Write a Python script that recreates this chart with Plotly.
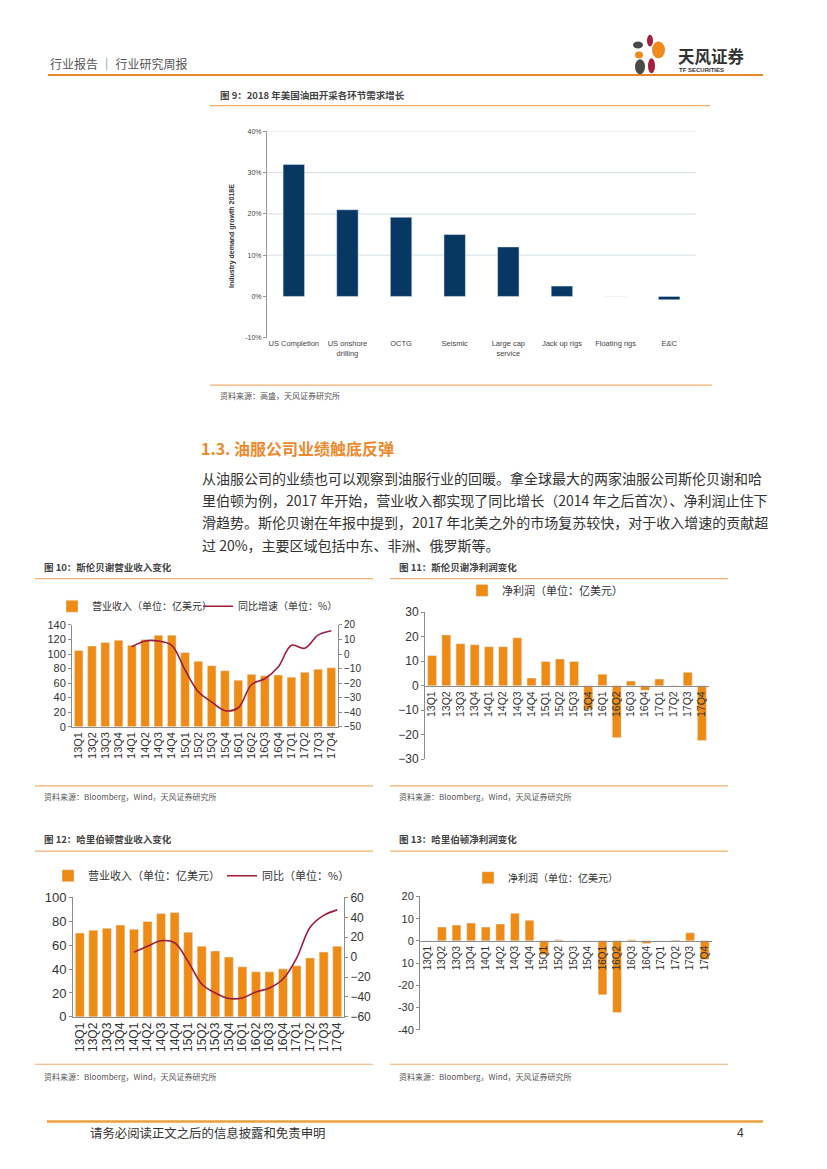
import plotly.graph_objects as go

W, H = 827, 1169
def px(x): return x / W
def py(y): return 1 - y / H

CJK = "Noto Sans CJK SC"
LAT = "Liberation Sans, Arial, Noto Sans CJK SC, sans-serif"

# ---------------- data ----------------
fig9_categories = ["US Completion", "US onshore<br>drilling", "OCTG", "Seismic",
                   "Large cap<br>service", "Jack up rigs", "Floating rigs", "E&C"]
fig9_growth = [32.0, 21.0, 19.2, 15.0, 12.0, 2.5, 0.0, -0.8]

quarters = ["13Q1", "13Q2", "13Q3", "13Q4", "14Q1", "14Q2", "14Q3", "14Q4",
            "15Q1", "15Q2", "15Q3", "15Q4", "16Q1", "16Q2", "16Q3", "16Q4",
            "17Q1", "17Q2", "17Q3", "17Q4"]

slb_revenue = [105, 111, 116, 119, 112, 120, 126, 126, 102, 90, 84, 77,
               64, 72, 70, 71, 68, 75, 79, 81]
slb_yoy = [None, None, None, None, 5, 9, 9, 6, -11, -26, -33, -39,
           -37, -21, -17, -9, 6, 4, 13, 16]
slb_profit = [12.3, 20.7, 17.1, 16.7, 15.9, 15.9, 19.5, 3.1, 9.9, 10.9, 9.9, -9.6,
              4.7, -21.2, 1.9, -1.9, 2.7, 0.0, 5.5, -22.4]

hal_revenue = [70.2, 72.5, 74.1, 76.9, 73.3, 79.9, 86.5, 87.3, 70.8, 59.2, 55.1, 50.1,
               41.9, 37.7, 37.7, 40.2, 42.7, 49.3, 54.3, 59.2]
hal_yoy = [None, None, None, None, 5, 11, 16.5, 14.5, -4.5, -27, -36, -41.5,
           -41, -35, -31, -22, -1, 30, 42, 47.5]
hal_profit = [0.0, 6.2, 7.1, 8.0, 6.2, 7.6, 12.4, 9.3, -6.2, 0.5, 0.0, 0.0,
              -24.3, -32.3, 0.5, -1.2, 0.0, 0.4, 3.6, -8.4]

fig13_ticks = [20, 10, 0, -10, -20, -30, -40]
fig13_ticktext = ["20", "10", "0", "10", "-20", "-30", "-40"]

ORANGE = "#EE8B14"
DARKRED = "#9E1B3B"
NAVY = "#073763"
RULE = "#F2AE6E"
AXIS = "#8C8C8C"
TXT = "#333333"

fig = go.Figure()

# ---------------- Fig 9 ----------------
fig.add_trace(go.Bar(x=fig9_categories, y=fig9_growth, marker_color=NAVY, width=0.4,
                     xaxis="x", yaxis="y", showlegend=False))

# ---------------- Fig 10 ----------------
fig.add_trace(go.Bar(x=quarters, y=slb_revenue, marker_color=ORANGE, width=0.65,
                     name="营业收入（单位：亿美元）", xaxis="x2", yaxis="y2", legend="legend"))
fig.add_trace(go.Scatter(x=quarters, y=slb_yoy, mode="lines",
                         line=dict(color=DARKRED, width=1.6, shape="spline", smoothing=1.0),
                         name="同比增速（单位：%）", xaxis="x2", yaxis="y3", legend="legend5"))

# ---------------- Fig 11 ----------------
fig.add_trace(go.Bar(x=quarters, y=slb_profit, marker_color=ORANGE, width=0.63,
                     name="净利润（单位：亿美元）", xaxis="x3", yaxis="y4", legend="legend2"))

# ---------------- Fig 12 ----------------
fig.add_trace(go.Bar(x=quarters, y=hal_revenue, marker_color=ORANGE, width=0.66,
                     name="营业收入（单位：亿美元）", xaxis="x4", yaxis="y5", legend="legend3"))
fig.add_trace(go.Scatter(x=quarters, y=hal_yoy, mode="lines",
                         line=dict(color=DARKRED, width=1.6, shape="spline", smoothing=1.0),
                         name="同比（单位：%）", xaxis="x4", yaxis="y6", legend="legend6"))

# ---------------- Fig 13 ----------------
fig.add_trace(go.Bar(x=quarters, y=hal_profit, marker_color=ORANGE, width=0.6,
                     name="净利润（单位：亿美元）", xaxis="x5", yaxis="y7", legend="legend4"))

def ydom(top, bottom):
    return [py(bottom), py(top)]

def qaxis(dom, size, **kw):
    d = dict(domain=dom, showline=True, linecolor=AXIS, ticks="", tickangle=-90,
             tickmode="array", tickvals=quarters, ticktext=quarters,
             tickfont=dict(size=size, color=TXT), showgrid=False)
    d.update(kw)
    return d

def vaxis(top, bottom, size, **kw):
    d = dict(domain=ydom(top, bottom), showgrid=False, zeroline=False, showline=True, linecolor=AXIS,
             ticks="outside", ticklen=3, tickcolor=AXIS, tickfont=dict(size=size, color=TXT))
    d.update(kw)
    return d

def leg(x, y, size):
    return dict(orientation="h", x=px(x), y=py(y), xanchor="left", yanchor="middle",
                font=dict(family=CJK, size=size, color=TXT), bgcolor="rgba(0,0,0,0)",
                itemwidth=30, borderwidth=0)

layout = dict(
    width=W, height=H, margin=dict(l=0, r=0, t=0, b=0),
    paper_bgcolor="white", plot_bgcolor="rgba(0,0,0,0)",
    font=dict(family=LAT, color=TXT),
    # fig 9
    xaxis=dict(domain=[px(267), px(696)], anchor="y", showline=False, ticks="",
               tickfont=dict(size=7.5, color="#444"), showgrid=False),
    yaxis=dict(domain=ydom(126, 335), anchor="x", range=[-10, 40], tickvals=[-10, 0, 10, 20, 30, 40],
               ticktext=["-10%", "0%", "10%", "20%", "30%", "40%"], showgrid=False, zeroline=False,
               showline=True, linecolor="#999", linewidth=1, tickfont=dict(size=7, color="#444"),
               ticks="outside", ticklen=3, tickcolor="#999"),
    # fig 10
    xaxis2=qaxis([px(72), px(338)], 11, anchor="y2"),
    yaxis2=vaxis(626, 729, 11, anchor="x2", range=[0, 140], dtick=20),
    yaxis3=vaxis(626, 729, 10, anchor="x2", overlaying="y2", side="right", range=[-50, 20], dtick=10),
    # fig 11
    xaxis3=qaxis([px(425), px(709)], 10.5, anchor="free", position=py(688)),
    yaxis4=vaxis(613, 762, 12, anchor="x3", range=[-30, 30], dtick=10),
    # fig 12
    xaxis4=qaxis([px(73), px(344)], 12, anchor="y5"),
    yaxis5=vaxis(902, 1023, 13, anchor="x4", range=[0, 100], dtick=20),
    yaxis6=vaxis(902, 1023, 12, anchor="x4", overlaying="y5", side="right", range=[-60, 60], dtick=20),
    # fig 13
    xaxis5=qaxis([px(420), px(712)], 10, anchor="free", position=py(946)),
    yaxis7=vaxis(901, 1036, 11, anchor="x5", range=[-40, 20], tickvals=fig13_ticks, ticktext=fig13_ticktext),
    legend=leg(52, 607, 10),
    legend5=leg(198, 607, 10),
    legend2=leg(462, 591, 11),
    legend3=leg(48, 880, 11),
    legend6=leg(222, 880, 11),
    legend4=leg(468, 882, 10),
)
fig.update_layout(**layout)

shapes = []
# fig 9 gridlines
for v in [10, 20, 30, 40]:
    shapes.append(dict(type="line", xref="x domain", yref="y", x0=0, x1=1, y0=v, y1=v,
                       line=dict(color="#D3E0E8", width=1), layer="below"))

def hline(x0, x1, y, color, width=1.5):
    shapes.append(dict(type="line", xref="paper", yref="paper", x0=px(x0), x1=px(x1), y0=py(y), y1=py(y),
                       line=dict(color=color, width=width)))

hline(48, 763, 69, "#E8862A", 2)        # header
hline(210, 710, 100, RULE, 1.2)         # fig9 title rule
hline(210, 712, 383, RULE, 1.2)         # fig9 source rule
hline(35, 373, 579, RULE, 1.2)
hline(390, 728, 579, RULE, 1.2)
hline(35, 373, 789, RULE, 1.2)
hline(390, 728, 789, RULE, 1.2)
hline(35, 373, 855, RULE, 1.2)
hline(390, 728, 855, RULE, 1.2)
hline(35, 373, 1071, RULE, 1.2)
hline(390, 728, 1071, RULE, 1.2)
hline(47, 763, 1129, "#E8A040", 2.5)    # footer

# logo petals
def ell(cx, cy, rx, ry, color):
    shapes.append(dict(type="circle", xref="paper", yref="paper", x0=px(cx - rx), x1=px(cx + rx),
                       y0=py(cy + ry), y1=py(cy - ry), fillcolor=color, line=dict(width=0)))
ell(650, 34, 3.0, 6.0, "#A3203F")
ell(638, 38.5, 5.0, 3.5, "#4A4A4A")
ell(658.5, 43.5, 6.5, 8.5, "#F08A1C")
ell(639, 48.5, 4.0, 3.5, "#F08A1C")
ell(651.5, 59.5, 3.5, 7.5, "#A3203F")
ell(640, 60.5, 5.0, 7.5, "#4A4A4A")
fig.update_layout(shapes=shapes)

ann = []
def text(x, y, s, size, color=TXT, family=CJK, xanchor="left", bold=False, angle=0):
    if bold:
        s = "<b>" + s + "</b>"
    ann.append(dict(xref="paper", yref="paper", x=px(x), y=py(y), text=s, showarrow=False,
                    xanchor=xanchor, yanchor="middle", textangle=angle,
                    font=dict(family=family, size=size, color=color)))

text(48, 57, "行业报告 ｜ 行业研究周报", 12, "#555")
text(676, 49.5, "天风证券", 16.5, "#333", bold=True)
text(677, 63.5, "TF SECURITIES", 6, "#333", family=LAT, bold=True)

text(218, 89, "图 9：2018 年美国油田开采各环节需求增长", 9.5, "#444", bold=True)
text(232, 232, "Industry demand growth 2018E", 7, "#333", family=LAT, xanchor="center", bold=True, angle=-90)
text(218, 394, "资料来源：高盛，天风证券研究所", 8, "#555")

text(199, 447, "1.3. 油服公司业绩触底反弹", 16, "#EE8A2E", bold=True)
para = [
    "从油服公司的业绩也可以观察到油服行业的回暖。拿全球最大的两家油服公司斯伦贝谢和哈",
    "里伯顿为例，2017 年开始，营业收入都实现了同比增长（2014 年之后首次）、净利润止住下",
    "滑趋势。斯伦贝谢在年报中提到，2017 年北美之外的市场复苏较快，对于收入增速的贡献超",
    "过 20%，主要区域包括中东、非洲、俄罗斯等。",
]
for i, line in enumerate(para):
    text(200, 477 + i * 22.5, line, 14, "#333")

text(42, 567, "图 10：斯伦贝谢营业收入变化", 9.5, "#444", bold=True)
text(397, 567, "图 11：斯伦贝谢净利润变化", 9.5, "#444", bold=True)
text(42, 843, "图 12：哈里伯顿营业收入变化", 9.5, "#444", bold=True)
text(397, 843, "图 13：哈里伯顿净利润变化", 9.5, "#444", bold=True)
for (x, y) in [(42, 800), (397, 800), (42, 1083), (397, 1083)]:
    text(x, y, "资料来源：Bloomberg，Wind，天风证券研究所", 8, "#555")

text(88, 1141, "请务必阅读正文之后的信息披露和免责申明", 12.4, "#333")
text(735, 1141, "4", 12, "#333", family=LAT)

fig.update_layout(annotations=ann)
fig.write_html("out.html",
               config={"displayModeBar": False},
               post_script="document.body.style.margin='0';document.body.style.padding='0';"
                           "document.documentElement.style.overflow='hidden';")
